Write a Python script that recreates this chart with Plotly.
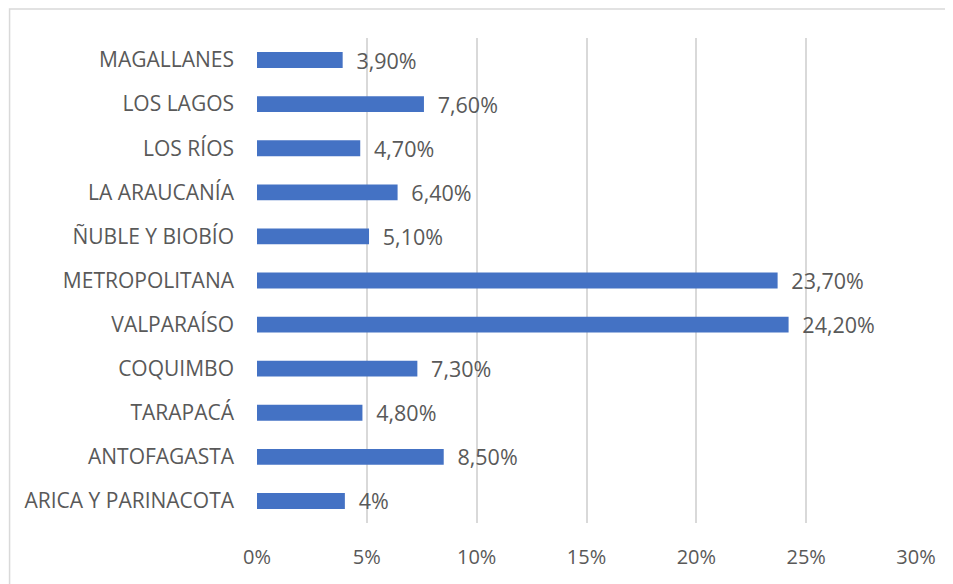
import plotly.graph_objects as go

regions = ["ARICA Y PARINACOTA", "ANTOFAGASTA", "TARAPACÁ", "COQUIMBO", "VALPARAÍSO",
           "METROPOLITANA", "ÑUBLE Y BIOBÍO", "LA ARAUCANÍA", "LOS RÍOS", "LOS LAGOS", "MAGALLANES"]
values = [0.040, 0.085, 0.048, 0.073, 0.242, 0.237, 0.051, 0.064, 0.047, 0.076, 0.039]
labels = ["4%", "8,50%", "4,80%", "7,30%", "24,20%", "23,70%", "5,10%", "6,40%", "4,70%", "7,60%", "3,90%"]
x_ticks = [0, 0.05, 0.10, 0.15, 0.20, 0.25, 0.30]
x_tick_labels = ["0%", "5%", "10%", "15%", "20%", "25%", "30%"]

OFF = 8  # page body margin
W, H = 953 - OFF, 584 - OFF
L, T = 256.5 - OFF, 38 - OFF
pw, ph = 659.2, 485
R, B = W - L - pw, H - T - ph

font_family = "Open Sans, Noto Sans, sans-serif"
grey = "#595959"

fig = go.Figure(go.Bar(
    y=regions, x=values, orientation="h",
    marker=dict(color="#4472C4", line=dict(width=0)),
    text=labels, texttemplate="\u2002%{text}",
    textposition="outside", cliponaxis=False, constraintext="none",
    textfont=dict(family=font_family, size=21.5, color=grey),
))

fig.update_layout(
    width=W, height=H,
    margin=dict(l=L, r=R, t=T, b=B, pad=0),
    paper_bgcolor="white", plot_bgcolor="white",
    bargap=0.64,
    showlegend=False,
    font=dict(family=font_family, size=20, color=grey),
    xaxis=dict(range=[0, 0.30], tickvals=x_ticks, ticktext=x_tick_labels,
               showgrid=True, gridcolor="#D9D9D9", gridwidth=1.5,
               zeroline=False, showline=False, ticks="", ticklen=0,
               ticklabelstandoff=20,
               tickfont=dict(size=20, color=grey), automargin=False),
    yaxis=dict(categoryorder="array", categoryarray=regions,
               showgrid=False, zeroline=False, showline=False, ticks="",
               ticklabelstandoff=22,
               tickfont=dict(size=21, color=grey), automargin=False),
    shapes=[dict(type="rect", xref="paper", yref="paper",
                 x0=(1 - L) / pw, x1=1.2, y0=-0.3, y1=(T - 1) / ph + 1,
                 line=dict(color="#D9D9D9", width=1.5), fillcolor="rgba(0,0,0,0)",
                 layer="below")],
)

fig.write_html("out.html")
